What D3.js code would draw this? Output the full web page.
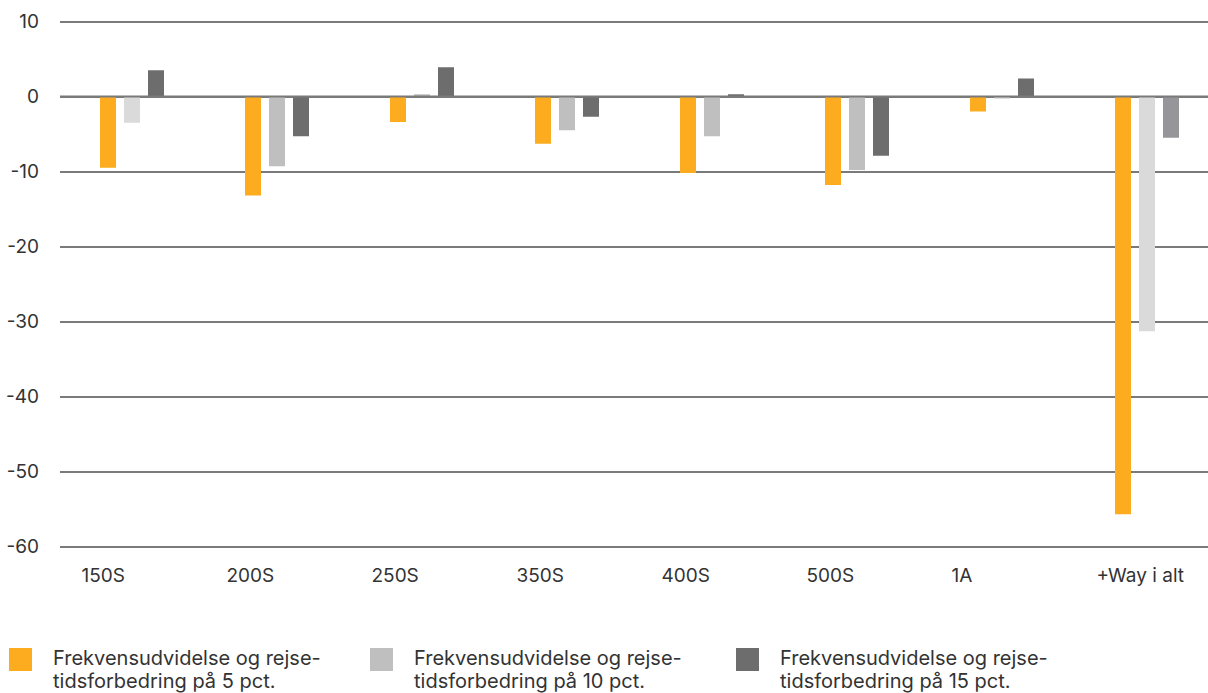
<!DOCTYPE html>
<html>
<head>
<meta charset="utf-8">
<script src="https://cdn.jsdelivr.net/npm/d3@7"></script>
<style>
  body { margin: 0; background: #fff; }
  svg text { font-family: Inter, Roboto, "Noto Sans", sans-serif; fill: #333; }
</style>
</head>
<body>
<svg id="chart" width="1208" height="693"></svg>
<script>
// chart data
var categories = ["150S", "200S", "250S", "350S", "400S", "500S", "1A", "+Way i alt"];
var series5 = [-9.5, -13.2, -3.4, -6.3, -10.2, -11.8, -2.0, -55.7];
var series10 = [-3.5, -9.3, 0.3, -4.5, -5.3, -9.8, -0.3, -31.3];
var series15 = [3.5, -5.3, 3.9, -2.7, 0.3, -7.9, 2.4, -5.5];
var seriesNames = [
    ["Frekvensudvidelse og rejse-", "tidsforbedring på 5 pct."],
    ["Frekvensudvidelse og rejse-", "tidsforbedring på 10 pct."],
    ["Frekvensudvidelse og rejse-", "tidsforbedring på 15 pct."]
];
var yTicks = [10, 0, -10, -20, -30, -40, -50, -60];

// colours
var seriesColours = ["#fcac1e", "#bfbfbf", "#6d6d6d"];
// a few bars are drawn in a different shade in the original
var colourOverrides = {
    "150S|1": "#dadada",
    "1A|1": "#d4d4d4",
    "+Way i alt|1": "#dadada",
    "+Way i alt|2": "#96969a"
};

var svg = d3.select("#chart");
var allSeries = [series5, series10, series15];

var x = d3.scaleBand()
    .domain(categories)
    .range([59.5, 1219.5]);

var xInner = d3.scaleBand()
    .domain([0, 1, 2])
    .range([-36, 36])
    .paddingInner(1 / 3)
    .paddingOuter(1 / 6);

var y = d3.scaleLinear()
    .domain([-60, 10])
    .range([546.5, 21.5]);

// gridlines + y labels (plain hyphen for negatives, like the original)
var yAxis = d3.axisLeft(y)
    .tickValues(yTicks)
    .tickSize(-1150)
    .tickPadding(21)
    .tickFormat(function(d) { return String(d); });

var gAxis = svg.append("g")
    .attr("transform", "translate(60,0)")
    .call(yAxis);
gAxis.select(".domain").remove();
gAxis.selectAll(".tick line")
    .attr("stroke", "#7a7a7a")
    .attr("stroke-width", 1.8);
gAxis.selectAll(".tick text")
    .attr("font-size", 19)
    .attr("fill", "#333");

// bars
var bars = [];
categories.forEach(function(c, i) {
    allSeries.forEach(function(s, j) {
        bars.push({cat: c, series: j, value: s[i]});
    });
});

svg.append("g").selectAll("rect")
    .data(bars).enter()
    .append("rect")
    .attr("x", function(d) { return x(d.cat) + x.bandwidth() / 2 + xInner(d.series); })
    .attr("width", xInner.bandwidth())
    .attr("y", function(d) { return y(Math.max(0, d.value)); })
    .attr("height", function(d) { return Math.abs(y(d.value) - y(0)); })
    .attr("fill", function(d) {
        return colourOverrides[d.cat + "|" + d.series] || seriesColours[d.series];
    });

// redraw the zero line on top of the bars
svg.append("line")
    .attr("x1", 60).attr("x2", 1210)
    .attr("y1", y(0)).attr("y2", y(0))
    .attr("stroke", "#7a7a7a")
    .attr("stroke-width", 1.8);

// category labels
svg.append("g").selectAll("text")
    .data(categories).enter()
    .append("text")
    .attr("x", function(d) { return x(d) + 22; })
    .attr("y", 582)
    .attr("font-size", 19)
    .text(function(d) { return d; });

// legend
var legendX = [9, 370, 736];
var legend = svg.append("g").selectAll("g")
    .data(seriesNames).enter()
    .append("g")
    .attr("transform", function(d, i) { return "translate(" + legendX[i] + ",648)"; });
legend.append("rect")
    .attr("width", 23)
    .attr("height", 23)
    .attr("fill", function(d, i) { return seriesColours[i]; });
legend.append("text")
    .attr("x", 44)
    .attr("y", 17)
    .attr("font-size", 20)
    .selectAll("tspan")
    .data(function(d) { return d; }).enter()
    .append("tspan")
    .attr("x", 44)
    .attr("dy", function(d, i) { return i ? 23 : 0; })
    .text(function(d) { return d; });
</script>
</body>
</html>
